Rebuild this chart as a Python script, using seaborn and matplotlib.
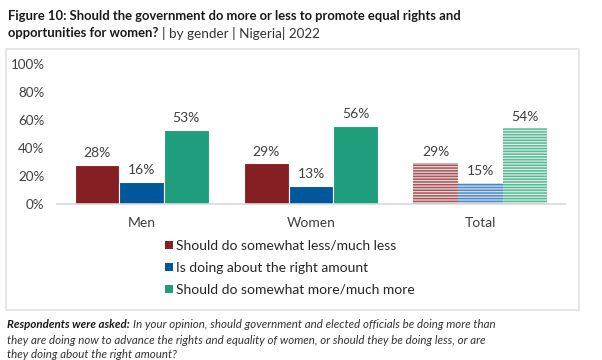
import matplotlib
matplotlib.use("Agg")
import matplotlib.pyplot as plt
import seaborn as sns
import pandas as pd
from matplotlib.patches import Patch, Rectangle

groups = ["Men", "Women", "Total"]
responses = ["Should do somewhat less/much less",
             "Is doing about the right amount",
             "Should do somewhat more/much more"]
less_vals = [28, 29, 29]
right_vals = [16, 13, 15]
more_vals = [53, 56, 54]
yticks = [0, 20, 40, 60, 80, 100]

colors = ["#861F24", "#00589C", "#1F9E7B"]
light = ["#EBD6D7", "#D3E2F1", "#D6EFE6"]
hatchc = ["#A3585C", "#4F88C4", "#5DB897"]

rows = []
for resp, vals in zip(responses, [less_vals, right_vals, more_vals]):
    for g, v in zip(groups, vals):
        rows.append({"group": g, "response": resp, "value": v})
df = pd.DataFrame(rows)

sns.set_style("white")
plt.rcParams["font.family"] = ["Lato", "DejaVu Sans"]
plt.rcParams["hatch.linewidth"] = 1.1

fig = plt.figure(figsize=(6.02, 3.6), dpi=100)
ax = fig.add_axes([0.0947, 0.4333, 0.8438, 0.389])

sns.barplot(data=df, x="group", y="value", hue="response", order=groups,
            hue_order=responses, palette=colors, width=0.79, ax=ax,
            edgecolor="white", linewidth=0.8, saturation=1, legend=False)

tc = "#404040"
for ci, cont in enumerate(ax.containers):
    for gi, bar in enumerate(cont):
        if groups[gi] == "Total":
            bar.set_facecolor(light[ci])
            bar.set_edgecolor(hatchc[ci])
            bar.set_hatch("------")
            bar.set_linewidth(0)
        h = bar.get_height()
        ax.annotate(f"{h:.0f}%", (bar.get_x() + bar.get_width() / 2, h),
                    xytext=(0, 4), textcoords="offset points",
                    ha="center", va="bottom", fontsize=10, color=tc)

ax.set_ylim(0, 100)
ax.set_yticks(yticks)
ax.set_yticklabels([f"{t}%" for t in yticks], fontsize=9.6, color=tc)
ax.tick_params(axis="x", labelsize=10, labelcolor=tc, pad=9, length=0)
ax.tick_params(axis="y", length=0, pad=9)
ax.set_xlabel("")
ax.set_ylabel("")
for s in ["top", "right", "left"]:
    ax.spines[s].set_visible(False)
ax.spines["bottom"].set_color("#D9D9D9")
ax.spines["bottom"].set_linewidth(1.2)
ax.set_xlim(-0.5, 2.5)

# frame around chart
fig.add_artist(Rectangle((6 / 602, 1 - 310 / 360), (579 - 6) / 602, (310 - 49) / 360,
                         transform=fig.transFigure, fill=False,
                         edgecolor="#E3E3E3", linewidth=1.2))

handles = [Patch(facecolor=c, edgecolor="none") for c in colors]
leg = fig.legend(handles, responses, loc="upper left",
                 bbox_to_anchor=(165 / 602, 1 - 240 / 360), frameon=False,
                 fontsize=10, labelcolor="#262626", handlelength=0.55,
                 handleheight=0.55, handletextpad=0.25, labelspacing=0.72,
                 borderaxespad=0, borderpad=0)

# Title
fig.canvas.draw()
r = fig.canvas.get_renderer()
tfs = 9.4
fig.text(8 / 602, 1 - 16 / 360,
         "Figure 10: Should the government do more or less to promote equal rights and",
         fontsize=tfs, fontweight="bold", color="#1a1a1a", va="center", ha="left")
t2 = fig.text(8 / 602, 1 - 33 / 360, "opportunities for women?",
              fontsize=tfs, fontweight="bold", color="#1a1a1a", va="center", ha="left")
bb = t2.get_window_extent(r)
fig.text((bb.x1 + 4) / 602, 1 - 33 / 360, "| by gender | Nigeria| 2022",
         fontsize=tfs + 0.3, color="#333333", va="center", ha="left")

# Footer
fs = 8.3
f1 = fig.text(7 / 602, 1 - 325 / 360, "Respondents were asked:", fontsize=fs,
              fontweight="bold", fontstyle="italic", color="#1a1a1a",
              va="center", ha="left")
bb = f1.get_window_extent(r)
fig.text((bb.x1 + 3) / 602, 1 - 325 / 360,
         "In your opinion, should government and elected officials be doing more than",
         fontsize=fs, fontstyle="italic", color="#333333", va="center", ha="left")
fig.text(7 / 602, 1 - 340 / 360,
         "they are doing now to advance the rights and equality of women, or should they be doing less, or are",
         fontsize=fs, fontstyle="italic", color="#333333", va="center", ha="left")
fig.text(7 / 602, 1 - 355 / 360, "they doing about the right amount?",
         fontsize=fs, fontstyle="italic", color="#333333", va="center", ha="left")

fig.savefig("out.png", dpi=100)
